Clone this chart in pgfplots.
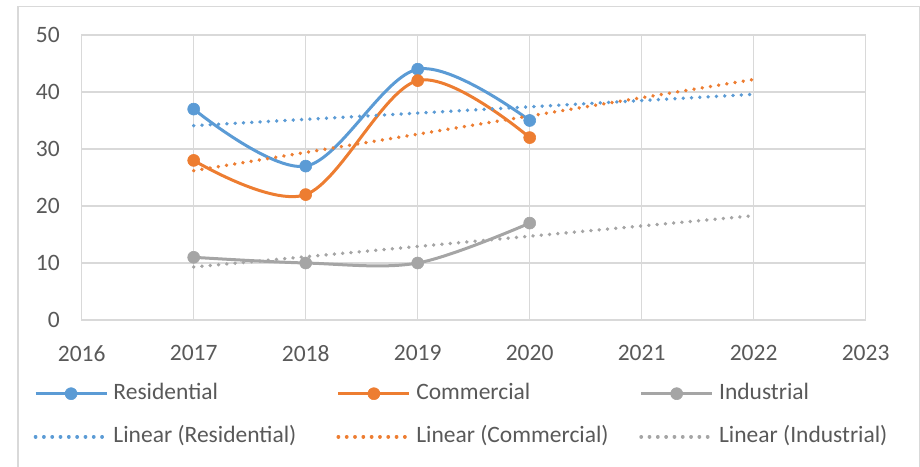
\documentclass[border=0pt]{standalone}
\usepackage{pgfplots}
\pgfplotsset{compat=1.18}
\usepackage{fontspec}
\setmainfont{Carlito}
\definecolor{cRes}{HTML}{5B9BD5}
\definecolor{cCom}{HTML}{ED7D31}
\definecolor{cInd}{HTML}{A5A5A5}
\definecolor{cGrid}{HTML}{D9D9D9}
\definecolor{cText}{HTML}{595959}
\newcommand{\cf}{\fontsize{23.5pt}{28pt}\selectfont}
\newcommand{\lt}[1]{\makebox[228pt][l]{\hspace{5pt}#1}}
\begin{document}
\begin{tikzpicture}
\useasboundingbox (0pt,0pt) rectangle (920pt,466pt);
\clip (0pt,0pt) rectangle (920pt,466pt);
\draw[line width=1.5pt, color=cGrid] (18pt,-10pt) rectangle (919.3pt,459.5pt);
\begin{axis}[
  at={(81.7pt,146pt)}, anchor=south west,
  scale only axis, width=784pt, height=285pt,
  xmin=2016, xmax=2023, ymin=0, ymax=50,
  xtick={2016,2017,...,2023}, ytick={0,10,...,50},
  /pgf/number format/1000 sep={},
  /pgf/number format/assume math mode=true,
  major tick length=0pt,
  grid=major,
  major grid style={line width=1.5pt, color=cGrid},
  axis line style={line width=1.5pt, color=cGrid},
  xticklabel style={font=\cf, text=cText, anchor=north, inner sep=0pt, yshift=-25pt},
  yticklabel style={font=\cf, text=cText, anchor=east, inner sep=0pt, xshift=-21.7pt},
  legend columns=3,
  legend image code/.code={\draw[mark repeat=2,mark phase=2,#1] plot coordinates {(0pt,0pt) (35.5pt,0pt) (71pt,0pt)};},
  legend style={at={(axis description cs:-0.0615,-0.221)}, anchor=north west,
    draw=none, fill=none, font=\cf, text=cText, inner sep=0pt,
    row sep=22pt,
    /tikz/every even column/.style={column sep=0pt},
    /tikz/every odd column/.style={column sep=0pt},
    nodes={inner sep=0pt, text height=16pt, text depth=5pt}},
  series/.style={line width=3pt, smooth, tension=0.55, mark=*, mark size=6pt, color=#1, mark options={solid, line width=0.6pt, fill=#1, draw=#1}},
  trend/.style={line width=3.8pt, color=#1, line cap=round, dash pattern=on 0.01pt off 8.3pt, mark=none},
]
\addplot[series=cRes] coordinates {(2017,37) (2018,27) (2019,44) (2020,35)};
\addlegendentry{\lt{Residential}}
\addplot[series=cCom] coordinates {(2017,28) (2018,22) (2019,42) (2020,32)};
\addlegendentry{\lt{Commercial}}
\addplot[series=cInd] coordinates {(2017,11) (2018,10) (2019,10) (2020,17)};
\addlegendentry{\lt{Industrial}}
\addplot[trend=cRes] coordinates {(2017,34.1) (2022,39.6)};
\addlegendentry{\lt{Linear (Residential)}}
\addplot[trend=cCom] coordinates {(2017,26.2) (2022,42.2)};
\addlegendentry{\lt{Linear (Commercial)}}
\addplot[trend=cInd] coordinates {(2017,9.3) (2022,18.3)};
\addlegendentry{\lt{Linear (Industrial)}}
\end{axis}
\end{tikzpicture}
\end{document}
